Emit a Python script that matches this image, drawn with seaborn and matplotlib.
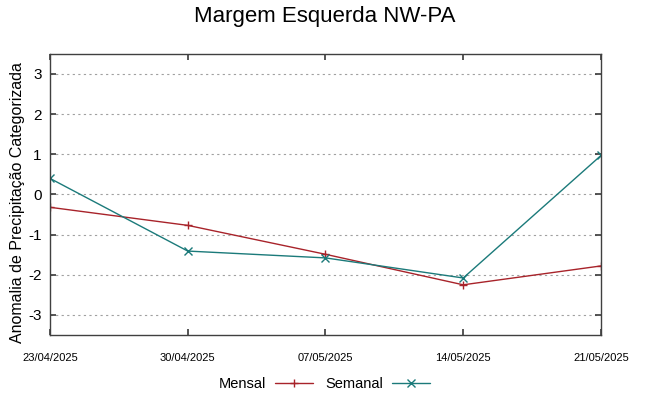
import numpy as np
import pandas as pd
import matplotlib
matplotlib.use('Agg')
import matplotlib.pyplot as plt
import seaborn as sns

dates = ['23/04/2025', '30/04/2025', '07/05/2025', '14/05/2025', '21/05/2025']
mensal = [-0.32, -0.77, -1.49, -2.25, -1.78]
semanal = [0.40, -1.41, -1.58, -2.08, 0.97]
y_ticks = [-3, -2, -1, 0, 1, 2, 3]

sns.set_theme(style='white')
plt.rcParams['font.family'] = ['Liberation Sans', 'DejaVu Sans']
plt.rcParams['text.color'] = 'black'
plt.rcParams['axes.labelcolor'] = 'black'
plt.rcParams['xtick.color'] = 'black'
plt.rcParams['ytick.color'] = 'black'

df = pd.DataFrame({
    'data': list(range(len(dates))) * 2,
    'valor': mensal + semanal,
    'serie': ['Mensal'] * len(dates) + ['Semanal'] * len(dates),
})

fig, ax = plt.subplots(figsize=(6.49, 3.96), dpi=100)
fig.subplots_adjust(left=0.077, right=0.926, top=0.864, bottom=0.154)

palette = {'Mensal': '#a8232a', 'Semanal': '#1b7a7a'}
markers = {'Mensal': '+', 'Semanal': 'x'}
sns.lineplot(data=df, x='data', y='valor', hue='serie', style='serie',
             palette=palette, markers=markers, dashes=False, ax=ax,
             linewidth=1.0, markersize=5.5, legend=False)
for ln in ax.lines:
    ln.set_markeredgecolor(ln.get_color())
    ln.set_markeredgewidth(1.0)

ax.set_xlim(0, len(dates) - 1)
ax.set_ylim(-3.5, 3.5)
ax.set_xticks(range(len(dates)))
ax.set_xticklabels(dates, fontsize=8)
ax.set_yticks(y_ticks)
ax.set_yticklabels([str(t) for t in y_ticks], fontsize=11)
ax.tick_params(direction='in', length=4, color='#404040',
               top=True, right=True, bottom=True, left=True)
ax.tick_params(axis='x', pad=13)
ax.tick_params(axis='y', pad=6)
ax.set_xlabel('')
ax.set_ylabel('Anomalia de Precipitação Categorizada', fontsize=11.5)
ax.yaxis.set_label_coords(-0.046, 0.47)
ax.yaxis.grid(True, linestyle=(0, (2, 3)), color='#a0a0a0', linewidth=0.8)
for sp in ax.spines.values():
    sp.set_color('#404040')
    sp.set_linewidth(1.0)

fig.suptitle('Margem Esquerda NW-PA', fontsize=16, y=0.985)

handles = [plt.Line2D([], [], color=palette[s], marker=markers[s],
                      markersize=5.5, linewidth=1.0) for s in ['Mensal', 'Semanal']]
fig.legend(handles, ['Mensal', 'Semanal'], loc='lower center', ncol=2,
           markerfirst=False, frameon=False, fontsize=10.5,
           bbox_to_anchor=(0.5, -0.02), handlelength=2.6, columnspacing=0.9,
           handletextpad=0.6, numpoints=1)

fig.savefig('out.png', dpi=100)
